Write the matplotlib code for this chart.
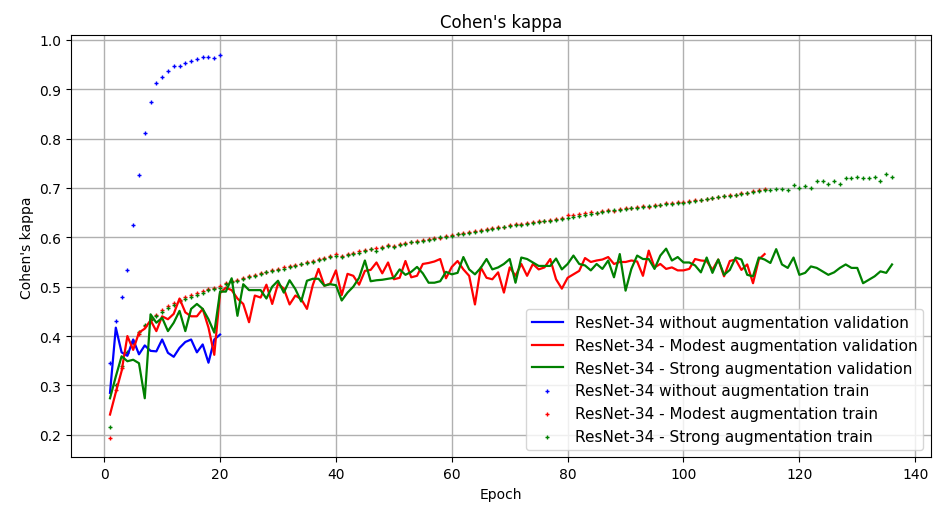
import numpy as np
import matplotlib
matplotlib.use("Agg")
import matplotlib.pyplot as plt

# значения каппы
blue_val = [0.285, 0.417, 0.367, 0.360, 0.393, 0.363, 0.381, 0.370, 0.369, 0.393,
            0.366, 0.358, 0.376, 0.388, 0.393, 0.367, 0.383, 0.346, 0.393, 0.403]
blue_train = [0.345, 0.430, 0.480, 0.534, 0.625, 0.726, 0.811, 0.874, 0.912, 0.924,
              0.937, 0.947, 0.947, 0.953, 0.958, 0.961, 0.965, 0.965, 0.964, 0.970]

red_val = [0.241, 0.286, 0.329, 0.400, 0.372, 0.407, 0.415, 0.432, 0.410, 0.440,
           0.434, 0.445, 0.476, 0.448, 0.440, 0.440, 0.455, 0.417, 0.362, 0.487,
           0.498, 0.493, 0.476, 0.465, 0.428, 0.482, 0.478, 0.504, 0.465, 0.506,
           0.496, 0.464, 0.482, 0.475, 0.455, 0.503, 0.536, 0.502, 0.506, 0.533,
           0.483, 0.526, 0.522, 0.504, 0.532, 0.534, 0.549, 0.527, 0.549, 0.515,
           0.518, 0.552, 0.519, 0.522, 0.546, 0.548, 0.551, 0.556, 0.517, 0.540,
           0.552, 0.535, 0.522, 0.464, 0.539, 0.518, 0.515, 0.529, 0.488, 0.539,
           0.522, 0.546, 0.522, 0.546, 0.535, 0.539, 0.556, 0.515, 0.496, 0.518,
           0.525, 0.532, 0.558, 0.550, 0.553, 0.555, 0.560, 0.546, 0.550, 0.550,
           0.553, 0.551, 0.522, 0.573, 0.539, 0.546, 0.536, 0.539, 0.533, 0.533,
           0.536, 0.556, 0.553, 0.552, 0.534, 0.555, 0.521, 0.552, 0.555, 0.534,
           0.545, 0.507, 0.555, 0.566]
red_train = [0.193, 0.290, 0.335, 0.365, 0.385, 0.405, 0.420, 0.435, 0.443, 0.452,
             0.460, 0.466, 0.474, 0.479, 0.483, 0.487, 0.491, 0.495, 0.497, 0.501,
             0.507, 0.512, 0.514, 0.518, 0.521, 0.524, 0.527, 0.530, 0.533, 0.535,
             0.539, 0.541, 0.544, 0.546, 0.549, 0.552, 0.556, 0.559, 0.563, 0.566,
             0.563, 0.566, 0.569, 0.572, 0.574, 0.577, 0.578, 0.581, 0.585, 0.583,
             0.587, 0.589, 0.590, 0.593, 0.594, 0.596, 0.598, 0.599, 0.603, 0.605,
             0.607, 0.609, 0.610, 0.612, 0.615, 0.616, 0.619, 0.620, 0.621, 0.624,
             0.626, 0.627, 0.628, 0.631, 0.633, 0.634, 0.635, 0.637, 0.640, 0.646,
             0.645, 0.648, 0.649, 0.652, 0.650, 0.654, 0.655, 0.653, 0.658, 0.659,
             0.660, 0.661, 0.663, 0.662, 0.665, 0.666, 0.669, 0.670, 0.671, 0.672,
             0.673, 0.675, 0.676, 0.678, 0.680, 0.681, 0.683, 0.685, 0.686, 0.689,
             0.690, 0.693, 0.695, 0.698]

green_val = [0.274, 0.318, 0.359, 0.349, 0.352, 0.345, 0.274, 0.444, 0.427, 0.437,
             0.410, 0.427, 0.451, 0.410, 0.455, 0.465, 0.455, 0.434, 0.407, 0.490,
             0.490, 0.517, 0.441, 0.505, 0.493, 0.493, 0.493, 0.476, 0.500, 0.512,
             0.488, 0.513, 0.495, 0.470, 0.512, 0.516, 0.516, 0.502, 0.505, 0.503,
             0.472, 0.488, 0.500, 0.518, 0.553, 0.511, 0.513, 0.514, 0.516, 0.518,
             0.535, 0.524, 0.530, 0.540, 0.527, 0.508, 0.508, 0.511, 0.530, 0.525,
             0.528, 0.560, 0.535, 0.525, 0.538, 0.556, 0.535, 0.539, 0.546, 0.556,
             0.508, 0.559, 0.556, 0.549, 0.542, 0.542, 0.542, 0.557, 0.535, 0.546,
             0.563, 0.546, 0.543, 0.533, 0.546, 0.536, 0.553, 0.519, 0.566, 0.492,
             0.536, 0.563, 0.556, 0.556, 0.536, 0.563, 0.577, 0.553, 0.560, 0.549,
             0.549, 0.543, 0.529, 0.559, 0.528, 0.555, 0.524, 0.534, 0.559, 0.555,
             0.524, 0.521, 0.559, 0.555, 0.548, 0.576, 0.545, 0.538, 0.559, 0.524,
             0.528, 0.541, 0.538, 0.531, 0.524, 0.529, 0.538, 0.545, 0.538, 0.538,
             0.507, 0.514, 0.521, 0.531, 0.528, 0.545]
green_train = [0.216, 0.300, 0.340, 0.368, 0.390, 0.408, 0.423, 0.433, 0.440, 0.449,
               0.457, 0.463, 0.470, 0.475, 0.480, 0.484, 0.488, 0.493, 0.495, 0.498,
               0.505, 0.509, 0.512, 0.516, 0.519, 0.522, 0.525, 0.529, 0.531, 0.534,
               0.536, 0.540, 0.542, 0.545, 0.548, 0.550, 0.554, 0.557, 0.560, 0.563,
               0.560, 0.564, 0.567, 0.569, 0.572, 0.576, 0.573, 0.579, 0.583, 0.580,
               0.585, 0.587, 0.591, 0.590, 0.592, 0.595, 0.597, 0.601, 0.600, 0.603,
               0.606, 0.607, 0.608, 0.611, 0.613, 0.615, 0.616, 0.618, 0.620, 0.622,
               0.624, 0.625, 0.627, 0.629, 0.631, 0.632, 0.634, 0.636, 0.637, 0.640,
               0.642, 0.643, 0.646, 0.648, 0.650, 0.651, 0.653, 0.655, 0.656, 0.657,
               0.659, 0.660, 0.661, 0.663, 0.664, 0.666, 0.667, 0.668, 0.670, 0.670,
               0.672, 0.674, 0.675, 0.678, 0.680, 0.681, 0.683, 0.684, 0.686, 0.688,
               0.689, 0.691, 0.693, 0.695, 0.696, 0.698, 0.697, 0.695, 0.705, 0.700,
               0.703, 0.700, 0.714, 0.714, 0.707, 0.714, 0.707, 0.721, 0.720, 0.722,
               0.720, 0.720, 0.722, 0.715, 0.728, 0.722]

ep_blue = np.arange(1, len(blue_val) + 1)
ep_red = np.arange(1, len(red_val) + 1)
ep_green = np.arange(1, len(green_val) + 1)

fig = plt.figure(figsize=(9.33, 5.06), dpi=100)
ax = fig.add_axes([0.076, 0.094, 0.922, 0.834])

# валидация - линии
ax.plot(ep_blue, blue_val, color="b", lw=1.6, label="ResNet-34 without augmentation validation")
ax.plot(ep_red, red_val, color="r", lw=1.6, label="ResNet-34 - Modest augmentation validation")
ax.plot(ep_green, green_val, color="g", lw=1.6, label="ResNet-34 - Strong augmentation validation")

# трейн - точки
ax.scatter(ep_blue, blue_train, color="b", marker="+", s=7, linewidths=1, label="ResNet-34 without augmentation train")
ax.scatter(ep_red, red_train, color="r", marker="+", s=7, linewidths=1, label="ResNet-34 - Modest augmentation train")
ax.scatter(ep_green, green_train, color="g", marker="+", s=7, linewidths=1, label="ResNet-34 - Strong augmentation train")

ax.set_xticks(range(0, 141, 20))
ax.set_yticks(np.arange(0.2, 1.01, 0.1))
ax.grid(True, color="#b0b0b0", lw=1)
ax.set_axisbelow(True)

ax.set_title("Cohen's kappa", fontsize=12)
ax.set_xlabel("Epoch")
ax.set_ylabel("Cohen's kappa")
ax.legend(loc="lower right", fontsize=11)

fig.savefig("out.png", dpi=100)
